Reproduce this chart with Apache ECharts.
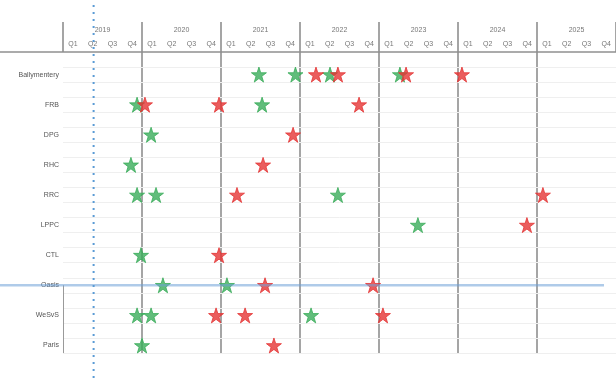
<!DOCTYPE html>
<html>
<head>
<meta charset="utf-8">
<script src="https://cdn.jsdelivr.net/npm/echarts@6/dist/echarts.min.js"></script>
<style>
  html, body { margin: 0; padding: 0; background: #fff; }
  #chart { width: 616px; height: 383px; }
</style>
</head>
<body>
<div id="chart"></div>
<script>
// Timeline rows (top to bottom)
const rowNames = ['Ballymentery', 'FRB', 'DPG', 'RHC', 'RRC', 'LPPC', 'CTL', 'Oasis', 'WeSvS', 'Paris'];

// Header labels
const years = ['2019', '2020', '2021', '2022', '2023', '2024', '2025'];
const quarterNames = ['Q1', 'Q2', 'Q3', 'Q4'];

// Milestones per row, in quarters counted from the start of 2019
const greenStars = [
  [9.92, 11.77, 13.52, 17.06],
  [3.75, 10.08],
  [4.46],
  [3.44],
  [3.75, 4.71, 13.92],
  [17.97],
  [3.95],
  [5.06, 8.3],
  [3.75, 4.46, 12.56],
  [4.0]
];
const redStars = [
  [12.81, 13.92, 17.37, 20.2],
  [4.15, 7.9, 14.99],
  [11.65],
  [10.13],
  [8.81, 24.3],
  [23.49],
  [7.9],
  [10.23, 15.7],
  [7.75, 9.22, 16.2],
  [10.68]
];

// Current date marker (quarters from start of 2019) and highlighted row
const todayMark = 1.55;
const highlightRow = 'Oasis';

const quarterLabels = [];
years.forEach(() => quarterNames.forEach(q => quarterLabels.push(q)));
const totalQuarters = quarterLabels.length;

function toPoints(lists) {
  const pts = [];
  lists.forEach((vals, row) => vals.forEach(v => pts.push([v, row])));
  return pts;
}

const STAR = 'path://M50,2 L61.2,36 L97.5,36 L68.2,57.3 L79.4,91.5 L50,70.4 L20.6,91.5 L31.8,57.3 L2.5,36 L38.8,36 Z';

const gridLines = [];
rowNames.forEach((n, i) => {
  gridLines.push({ yAxis: i - 0.25 });
  gridLines.push({ yAxis: i + 0.25 });
});

const chart = echarts.init(document.getElementById('chart'), null, { renderer: 'canvas' });
const fontFamily = '"Liberation Sans", Arial, sans-serif';

chart.setOption({
  animation: false,
  backgroundColor: '#fff',
  grid: { left: 63, right: 0, top: 52, bottom: 30, containLabel: false },
  xAxis: [
    {
      type: 'value', min: 0, max: totalQuarters, interval: 4,
      axisLabel: { show: false }, axisTick: { show: false }, axisLine: { show: false },
      splitLine: { show: true, showMinLine: false, showMaxLine: false, lineStyle: { color: '#8f8f8f', width: 1.6 } }
    },
    {
      type: 'category', position: 'top', data: quarterLabels, boundaryGap: true,
      axisLine: { show: false }, axisTick: { show: false }, splitLine: { show: false },
      axisLabel: { interval: 0, margin: 4, fontSize: 7, color: '#777', fontFamily: fontFamily }
    },
    {
      type: 'category', position: 'top', data: years, boundaryGap: true,
      axisLine: { show: false },
      axisTick: { show: true, interval: 0, length: 30, lineStyle: { color: '#8f8f8f', width: 1.6 } },
      splitLine: { show: false },
      axisLabel: { interval: 0, margin: 18, fontSize: 7, color: '#777', fontFamily: fontFamily }
    }
  ],
  yAxis: {
    type: 'value', inverse: true, min: -0.75, max: rowNames.length - 0.75,
    axisLine: { show: false }, axisTick: { show: false }, splitLine: { show: false },
    axisLabel: {
      customValues: rowNames.map((n, i) => i),
      formatter: v => rowNames[Math.round(v)] || '',
      margin: 4, fontSize: 7, color: '#555', fontFamily: fontFamily
    }
  },
  series: [
    {
      name: 'grid', type: 'scatter', data: [], silent: true,
      markLine: {
        silent: true, symbol: 'none', label: { show: false },
        lineStyle: { color: '#efefef', width: 1, type: 'solid' },
        data: gridLines
      }
    },
    {
      name: 'bracket', type: 'scatter', data: [], silent: true,
      markLine: {
        silent: true, symbol: 'none', label: { show: false },
        lineStyle: { color: '#9a9a9a', width: 1, type: 'solid' },
        data: [[{ coord: [0, rowNames.indexOf(highlightRow)] }, { coord: [0, rowNames.length - 0.75] }]]
      }
    },
    {
      name: 'Green', type: 'scatter', data: toPoints(greenStars), symbol: STAR, symbolSize: 15,
      itemStyle: { color: '#3aac5a', borderColor: '#3aac5a', borderWidth: 1 }, z: 5
    },
    {
      name: 'Red', type: 'scatter', data: toPoints(redStars), symbol: STAR, symbolSize: 15,
      itemStyle: { color: '#e53535', borderColor: '#e53535', borderWidth: 1 }, z: 6
    }
  ]
});

// Overlays that run past the plot area: header rule, today marker, highlighted row
const W = chart.getWidth();
const H = chart.getHeight();
const headerY = chart.convertToPixel({ yAxisIndex: 0 }, -0.75);
const todayX = chart.convertToPixel({ xAxisIndex: 0 }, todayMark);
const hlY = chart.convertToPixel({ yAxisIndex: 0 }, rowNames.indexOf(highlightRow));

chart.setOption({
  graphic: [
    {
      type: 'line', z: 50, silent: true,
      shape: { x1: 0, y1: headerY, x2: W, y2: headerY },
      style: { stroke: '#8f8f8f', lineWidth: 1.6 }
    },
    {
      type: 'line', z: 60, silent: true,
      shape: { x1: 0, y1: hlY, x2: W - 12, y2: hlY },
      style: { stroke: 'rgba(110,160,215,0.55)', lineWidth: 2.5 }
    },
    {
      type: 'line', z: 61, silent: true,
      shape: { x1: todayX, y1: 5, x2: todayX, y2: H },
      style: { stroke: '#5b9bd5', lineWidth: 2, lineDash: [2, 5] }
    }
  ]
});
</script>
</body>
</html>
